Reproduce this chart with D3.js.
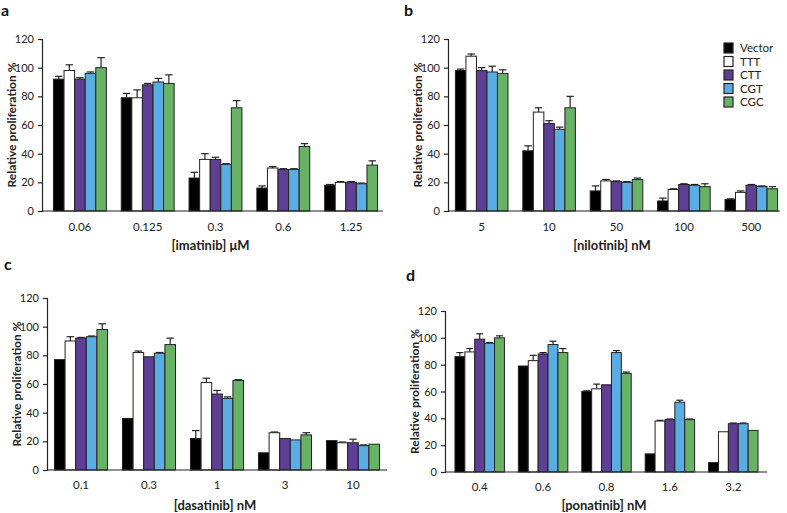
<!DOCTYPE html>
<html>
<head>
<meta charset="utf-8">
<script src="https://cdn.jsdelivr.net/npm/d3@7"></script>
<style>
  body { margin: 0; background: #fff; }
  svg { font-family: Lato, "Open Sans", sans-serif; }
</style>
</head>
<body>
<div id="chart"></div>
<script>
// series (legend order)
const series = ['Vector', 'TTT', 'CTT', 'CGT', 'CGC'];
const seriesColors = ['#000000', '#ffffff', '#5f3f96', '#5aade2', '#68b266'];

const yTicks = [0, 20, 40, 60, 80, 100, 120];

// a: imatinib
const imatinibDoses = ['0.06', '0.125', '0.3', '0.6', '1.25'];
const imatinibMean = [
    [92, 98, 92, 96, 100],
    [79, 79, 88, 90, 89],
    [23, 36, 36, 32.5, 72],
    [16, 30, 29, 29, 45],
    [18, 20, 20, 19, 32]
];
const imatinibErr = [
    [2, 4, 1, 1, 7],
    [3, 5.5, 1, 2.5, 6],
    [4, 4, 1.5, 0.5, 5],
    [1.5, 1, 0.5, 0.5, 2],
    [0.5, 0.5, 0.5, 0.5, 3]
];

// b: nilotinib
const nilotinibDoses = ['5', '10', '50', '100', '500'];
const nilotinibMean = [
    [98, 108, 98, 97, 96],
    [42, 69, 61, 57, 72],
    [14, 21, 20.5, 20, 22],
    [7, 15, 18.5, 18, 17],
    [8, 13, 18, 17, 15.5]
];
const nilotinibErr = [
    [1, 1.5, 2, 4, 2.5],
    [3.5, 3, 2, 1.5, 8],
    [3.5, 1, 0.5, 0.5, 1],
    [2, 0.5, 0.5, 0.5, 2],
    [0.5, 1, 0.5, 0.5, 1.5]
];

// c: dasatinib
const dasatinibDoses = ['0.1', '0.3', '1', '3', '10'];
const dasatinibMean = [
    [77, 90, 92, 93, 98],
    [36, 82, 79, 81.5, 87.5],
    [22, 61, 53, 50, 62.5],
    [12, 26, 22, 21, 24.5],
    [20.5, 19, 19, 17, 18]
];
const dasatinibErr = [
    [0, 3, 0.5, 0.5, 4],
    [0, 1, 0, 0.5, 4.5],
    [5.5, 3, 2.5, 1, 0.5],
    [0, 0.5, 0, 0, 1.5],
    [0, 0.5, 2.5, 0.5, 0]
];

// d: ponatinib
const ponatinibDoses = ['0.4', '0.6', '0.8', '1.6', '3.2'];
const ponatinibMean = [
    [86, 89.5, 99, 96, 100],
    [79, 83, 88, 95, 89],
    [60, 62, 65, 89, 73.5],
    [13.5, 38, 39, 52, 39],
    [7, 30, 36, 36, 31]
];
const ponatinibErr = [
    [3, 2.5, 4, 0.5, 1.5],
    [0, 4, 1, 2.5, 3],
    [0.5, 3.5, 0, 1.5, 1],
    [0, 0.5, 0.5, 1.5, 0.5],
    [0, 0, 0.5, 0.5, 0]
];

const panels = [
    {letter: 'a', lx: 1, ly: 16, title: '[imatinib] \u03bcM', doses: imatinibDoses, mean: imatinibMean, err: imatinibErr,
     x0: 42, x1: 383, bx0: 46, bx1: 385, y0: 211, y1: 39, tickY: 231, titleY: 250},
    {letter: 'b', lx: 404, ly: 16, title: '[nilotinib] nM', doses: nilotinibDoses, mean: nilotinibMean, err: nilotinibErr,
     x0: 448, x1: 780, bx0: 448, bx1: 785, y0: 211, y1: 39, tickY: 231, titleY: 250},
    {letter: 'c', lx: 4, ly: 270, title: '[dasatinib] nM', doses: dasatinibDoses, mean: dasatinibMean, err: dasatinibErr,
     x0: 47, x1: 387, bx0: 47, bx1: 387, y0: 470, y1: 298, tickY: 489, titleY: 510},
    {letter: 'd', lx: 406, ly: 281, title: '[ponatinib] nM', doses: ponatinibDoses, mean: ponatinibMean, err: ponatinibErr,
     x0: 445, x1: 767, bx0: 448, bx1: 765, y0: 472, y1: 311, tickY: 491, titleY: 510}
];

const svg = d3.select('#chart')
    .append('svg')
    .attr('width', 787)
    .attr('height', 513);

panels.forEach(p => {
    const g = svg.append('g');

    const x = d3.scaleBand().domain(p.doses).range([p.bx0, p.bx1]).paddingInner(0.22).paddingOuter(0.11);
    const xs = d3.scaleBand().domain(series).range([0, x.bandwidth()]);
    const y = d3.scaleLinear().domain([0, 120]).range([p.y0, p.y1]);

    // y axis
    const yAxis = g.append('g')
        .attr('transform', `translate(${p.x0},0)`)
        .call(d3.axisLeft(y).tickValues(yTicks).tickSize(4).tickPadding(4));
    yAxis.select('.domain').attr('stroke', '#222').attr('stroke-width', 1.2);
    yAxis.selectAll('.tick line').attr('stroke', '#222').attr('stroke-width', 1.2);
    yAxis.selectAll('.tick text').attr('font-size', 11).attr('fill', '#222')
        .attr('font-family', 'Lato, sans-serif');

    // bars
    p.doses.forEach((dose, i) => {
        const grp = g.append('g').attr('transform', `translate(${x(dose)},0)`);
        series.forEach((s, j) => {
            const v = p.mean[i][j];
            const e = p.err[i][j];
            const bx = xs(s);
            const bw = xs.bandwidth();
            if (e > 0) {
                grp.append('line')
                    .attr('x1', bx + bw / 2).attr('x2', bx + bw / 2)
                    .attr('y1', y(v)).attr('y2', y(v + e))
                    .attr('stroke', '#222').attr('stroke-width', 1.2);
                grp.append('line')
                    .attr('x1', bx + bw * 0.15).attr('x2', bx + bw * 0.85)
                    .attr('y1', y(v + e)).attr('y2', y(v + e))
                    .attr('stroke', '#222').attr('stroke-width', 1.2);
            }
            grp.append('rect')
                .attr('x', bx)
                .attr('y', y(v))
                .attr('width', bw)
                .attr('height', y(0) - y(v))
                .attr('fill', seriesColors[j])
                .attr('stroke', '#222')
                .attr('stroke-width', 1);
        });
    });

    // x axis line (no ticks)
    g.append('line')
        .attr('x1', p.x0).attr('x2', p.x1)
        .attr('y1', p.y0).attr('y2', p.y0)
        .attr('stroke', '#222').attr('stroke-width', 1.2);

    g.selectAll('.dose')
        .data(p.doses)
        .join('text')
        .attr('class', 'dose')
        .attr('x', d => x(d) + x.bandwidth() / 2)
        .attr('y', p.tickY)
        .attr('text-anchor', 'middle')
        .attr('font-size', 11.5)
        .attr('fill', '#222')
        .text(d => d);

    g.append('text')
        .attr('x', (p.x0 + p.x1) / 2 - 2)
        .attr('y', p.titleY)
        .attr('text-anchor', 'middle')
        .attr('font-size', 13)
        .attr('font-weight', 'bold')
        .attr('fill', '#222')
        .text(p.title);

    g.append('text')
        .attr('transform', `translate(${p.x0 - 26},${(p.y0 + p.y1) / 2}) rotate(-90)`)
        .attr('text-anchor', 'middle')
        .attr('font-size', 12)
        .attr('font-weight', 'bold')
        .attr('fill', '#222')
        .text('Relative proliferation %');

    g.append('text')
        .attr('x', p.lx)
        .attr('y', p.ly)
        .attr('font-size', 16)
        .attr('font-weight', 'bold')
        .attr('fill', '#111')
        .text(p.letter);
});

// legend
const legend = svg.append('g').attr('transform', 'translate(724,43)');
series.forEach((s, j) => {
    const row = legend.append('g').attr('transform', `translate(0,${j * 13.5})`);
    row.append('rect')
        .attr('width', 9).attr('height', 10)
        .attr('fill', seriesColors[j])
        .attr('stroke', '#222').attr('stroke-width', 1.2);
    row.append('text')
        .attr('x', 16).attr('y', 9)
        .attr('font-size', 11.5)
        .attr('fill', '#222')
        .text(s);
});
</script>
</body>
</html>
